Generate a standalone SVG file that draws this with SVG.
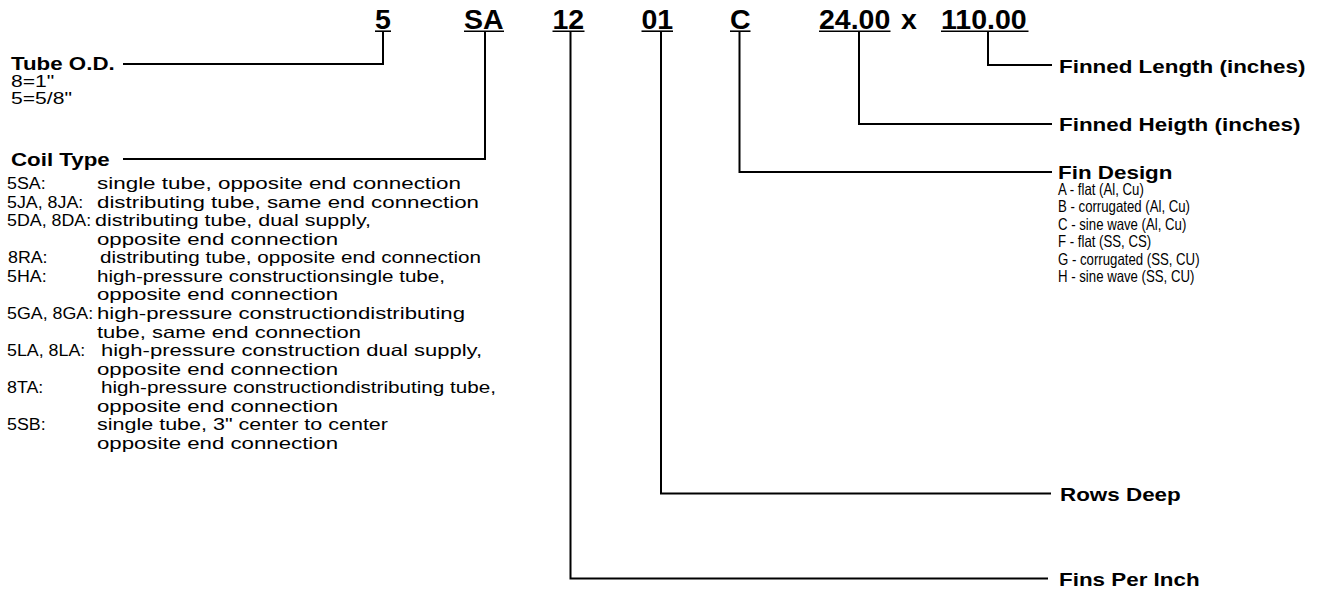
<svg xmlns="http://www.w3.org/2000/svg" width="1318" height="596" viewBox="0 0 1318 596">
<style>
text{font-family:"Liberation Sans",Arial,Helvetica,sans-serif;fill:#000}
.code{font-size:28.5px;font-weight:bold}
.lbl{font-size:18px;font-weight:bold}
.txt{font-size:16.5px}
.fin{font-size:16.5px}
.ul{stroke:#000;stroke-width:1.6}
.conn path{fill:none;stroke:#000;stroke-width:2}
</style>
<rect width="1318" height="596" fill="#fff"/>
<g id="connectors" class="conn">
<path d="M383 31V64H123"/>
<path d="M485 31V159H123"/>
<path d="M570.5 31V578.5H1048"/>
<path d="M661 31V493.5H1051"/>
<path d="M739.5 31V172H1052"/>
<path d="M859 31V124H1052"/>
<path d="M988 31V65H1052"/>
</g>
<g id="code-5"><text class="code" x="375" y="29.3">5</text><line class="ul" x1="375" y1="31.2" x2="391" y2="31.2"/></g>
<g id="code-SA"><text class="code" x="464" y="29.3">SA</text><line class="ul" x1="464" y1="31.2" x2="504" y2="31.2"/></g>
<g id="code-12"><text class="code" x="552.5" y="29.3">12</text><line class="ul" x1="552.5" y1="31.2" x2="584.5" y2="31.2"/></g>
<g id="code-01"><text class="code" x="641.5" y="29.3">01</text><line class="ul" x1="641.5" y1="31.2" x2="673" y2="31.2"/></g>
<g id="code-C"><text class="code" x="730" y="29.3">C</text><line class="ul" x1="730" y1="31.2" x2="750.5" y2="31.2"/></g>
<g id="code-height"><text class="code" x="819" y="29.3">24.00</text><line class="ul" x1="819" y1="31.2" x2="890.5" y2="31.2"/></g>
<g id="code-x"><text class="code" x="901" y="29.3">x</text></g>
<g id="code-length"><text class="code" x="941" y="29.3">110.00</text><line class="ul" x1="941" y1="31.2" x2="1028.5" y2="31.2"/></g>

<g id="tube-od">
<text class="lbl" transform="translate(11,69.5) scale(1.24,1)">Tube O.D.</text>
<text class="txt" transform="translate(11,86.5) scale(1.28,1)">8=1"</text>
<text class="txt" transform="translate(11,103.5) scale(1.28,1)">5=5/8"</text>
</g>

<g id="coil-type">
<text class="lbl" transform="translate(11,166) scale(1.24,1)">Coil Type</text>
<g transform="scale(1.08,1)">
<text class="txt" x="6.5" y="189">5SA:</text>
<text class="txt" x="6.5" y="207.6">5JA, 8JA:</text>
<text class="txt" x="6.5" y="226.1">5DA, 8DA:</text>
<text class="txt" x="7.4" y="263.3">8RA:</text>
<text class="txt" x="6.5" y="281.9">5HA:</text>
<text class="txt" x="6.5" y="319">5GA, 8GA:</text>
<text class="txt" x="6.5" y="356.1">5LA, 8LA:</text>
<text class="txt" x="6.5" y="393.3">8TA:</text>
<text class="txt" x="6.5" y="430.4">5SB:</text>
</g>
<text class="txt" x="97" y="189" textLength="364" lengthAdjust="spacingAndGlyphs">single tube, opposite end connection</text>
<text class="txt" x="97" y="207.6" textLength="382" lengthAdjust="spacingAndGlyphs">distributing tube, same end connection</text>
<text class="txt" x="95" y="226.1" textLength="276" lengthAdjust="spacingAndGlyphs">distributing tube, dual supply,</text>
<text class="txt" x="97" y="244.7" textLength="241" lengthAdjust="spacingAndGlyphs">opposite end connection</text>
<text class="txt" x="100" y="263.3" textLength="381" lengthAdjust="spacingAndGlyphs">distributing tube, opposite end connection</text>
<text class="txt" x="97" y="281.9" textLength="348" lengthAdjust="spacingAndGlyphs">high-pressure constructionsingle tube,</text>
<text class="txt" x="97" y="300.4" textLength="241" lengthAdjust="spacingAndGlyphs">opposite end connection</text>
<text class="txt" x="97" y="319" textLength="368" lengthAdjust="spacingAndGlyphs">high-pressure constructiondistributing</text>
<text class="txt" x="97" y="337.6" textLength="264" lengthAdjust="spacingAndGlyphs">tube, same end connection</text>
<text class="txt" x="101" y="356.1" textLength="381" lengthAdjust="spacingAndGlyphs">high-pressure construction dual supply,</text>
<text class="txt" x="97" y="374.7" textLength="241" lengthAdjust="spacingAndGlyphs">opposite end connection</text>
<text class="txt" x="101" y="393.3" textLength="395" lengthAdjust="spacingAndGlyphs">high-pressure constructiondistributing tube,</text>
<text class="txt" x="97" y="411.9" textLength="241" lengthAdjust="spacingAndGlyphs">opposite end connection</text>
<text class="txt" x="97" y="430.4" textLength="291" lengthAdjust="spacingAndGlyphs">single tube, 3" center to center</text>
<text class="txt" x="97" y="449" textLength="241" lengthAdjust="spacingAndGlyphs">opposite end connection</text>
</g>

<g id="finned-length"><text class="lbl" transform="translate(1059,73) scale(1.245,1)">Finned Length (inches)</text></g>
<g id="finned-height"><text class="lbl" transform="translate(1059,131) scale(1.245,1)">Finned Heigth (inches)</text></g>

<g id="fin-design">
<text class="lbl" transform="translate(1058,178.5) scale(1.245,1)">Fin Design</text>
<g transform="translate(1058,0) scale(0.8,1)">
<text class="fin" x="0" y="195">A - flat (Al, Cu)</text>
<text class="fin" x="0" y="212.5">B - corrugated (Al, Cu)</text>
<text class="fin" x="0" y="230">C - sine wave (Al, Cu)</text>
<text class="fin" x="0" y="247.5">F - flat (SS, CS)</text>
<text class="fin" x="0" y="265">G - corrugated (SS, CU)</text>
<text class="fin" x="0" y="282.5">H - sine wave (SS, CU)</text>
</g>
</g>

<g id="rows-deep"><text class="lbl" transform="translate(1060,500.5) scale(1.245,1)">Rows Deep</text></g>
<g id="fins-per-inch"><text class="lbl" transform="translate(1059,586) scale(1.245,1)">Fins Per Inch</text></g>
</svg>
